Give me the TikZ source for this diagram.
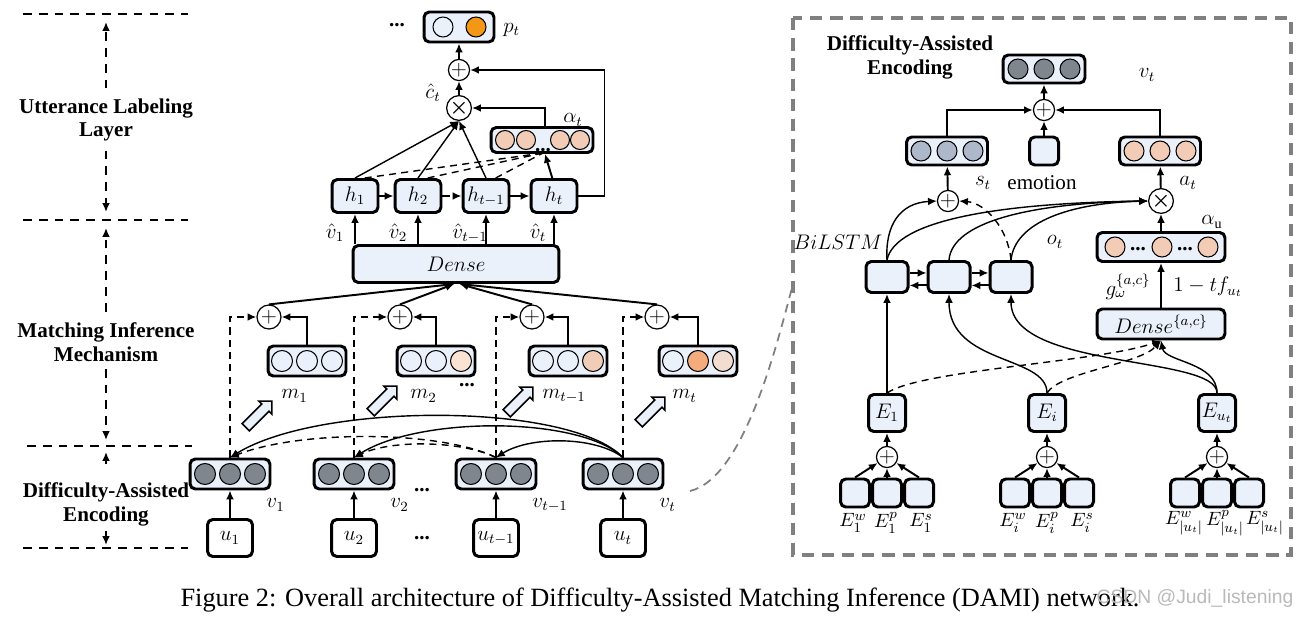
\documentclass[tikz,border=0pt]{standalone}
\usepackage{fontspec}
\usepackage{amsmath}
\setmainfont{Liberation Serif}
\setsansfont{Liberation Sans}
\usetikzlibrary{arrows.meta,shapes.arrows}
\definecolor{boxfill}{RGB}{235,241,250}
\definecolor{vgray}{RGB}{128,134,142}
\definecolor{sblue}{RGB}{173,185,202}
\definecolor{peach}{RGB}{242,204,182}
\definecolor{porange}{RGB}{244,150,22}
\definecolor{mpeach}{RGB}{251,227,212}
\definecolor{mtan}{RGB}{241,205,184}
\definecolor{morange}{RGB}{244,172,124}
\definecolor{mpale}{RGB}{243,220,208}
\definecolor{framegray}{RGB}{128,128,128}

\begin{document}
\begin{tikzpicture}[x=0.02cm, y=-0.02cm, >={Latex[length=5pt,width=4.4pt]},
  vec/.style={draw, rounded corners=3pt, line width=1.7pt, fill=boxfill, inner sep=1pt},
  dot/.style={circle, draw, line width=0.6pt, minimum size=0.42cm, inner sep=0pt},
  opc/.style={circle, draw, fill=white, line width=0.7pt, minimum size=0.4cm, inner sep=0pt},
  arr/.style={->, line width=1.1pt},
  fine/.style={->, line width=0.8pt},
  dsh/.style={dash pattern=on 4pt off 3pt},
  sect/.style={dash pattern=on 5pt off 4pt, line width=1pt},
  dots/.style={font=\bfseries, inner sep=0pt},
  fat/.style={single arrow, draw, fill=boxfill, line width=0.9pt, rotate=45, minimum height=0.74cm, minimum width=0.34cm, single arrow head extend=0.08cm, inner sep=2.5pt}]
\fontsize{12}{13.6}\selectfont
\useasboundingbox (0,0) rectangle (1305,618);

% section labels on the left
\foreach \y in {14,220,548} \draw[sect] (23,\y) -- (188,\y);
\draw[sect] (27,446) -- (192,446);
\node[align=center, font=\bfseries, inner sep=0pt] (lab1) at (106,120) {Utterance Labeling\\Layer};
\node[align=center, font=\bfseries, inner sep=0pt] (lab2) at (106,342) {Matching Inference\\Mechanism};
\node[align=center, font=\bfseries, inner sep=0pt] (lab3) at (106,504) {Difficulty-Assisted\\Encoding};
\draw[sect,->,shorten <=5.5pt] (lab1.north) -- (106,22);
\draw[sect,->,shorten <=5pt] (lab1.south) -- (106,212);
\draw[sect,->,shorten <=6pt] (lab2.north) -- (106,228);
\draw[sect,->,shorten <=4pt] (lab2.south) -- (106,440);
\draw[sect,->,shorten <=10pt] (lab3.north) -- (106,452);
\draw[sect,->,shorten <=3pt] (lab3.south) -- (106,545);

% utterance labeling layer
\node[vec, minimum width=1.4cm, minimum height=0.6cm] (pt) at (459,27) {};
\node[dot, fill=boxfill, minimum size=0.4cm] (pt1) at (443,27) {};
\node[dot, fill=porange, minimum size=0.4cm] (pt2) at (476,27) {};
\node[anchor=west] (ptl) at (496,30) {$p_t$};
\node[dots] (ptd) at (397,25) {...};
\node[opc] (add) at (459,70) {$+$};
\node[opc] (mul) at (459,108) {$\boldsymbol{\times}$};
\node (ctl) at (433,93) {$\hat{c}_t$};
\node[vec, minimum width=2.04cm, minimum height=0.5cm] (al) at (542,140) {};
\foreach \x [count=\j] in {505,526,560,580} \node[dot, fill=peach, minimum size=0.38cm] (al\j) at (\x,140) {};
\node[dots] (ald) at (543,150) {...};
\node (all) at (573,120) {$\alpha_t$};
\foreach \x/\lab [count=\i] in {355/h_1,418/h_2,486/h_{t-1},554/h_t}
  \node[vec, minimum width=0.92cm, minimum height=0.66cm] (h\i) at (\x,196) {$\lab$};
\node[vec, minimum width=4.12cm, minimum height=0.74cm] (dense) at (456,264) {$Dense$};
\foreach \x/\lab [count=\i] in {335/\hat{v}_1,398/\hat{v}_2,470/\hat{v}_{t-1},538/\hat{v}_t}
  \node (vh\i) at (\x,233) {$\lab$};

\draw[arr] (add) -- (pt);
\draw[arr] (mul) -- (add);
\draw[arr] (h4.east) -- ++(26,0) |- (add.east);
\draw[arr] ([xshift=1.7pt]al.north) |- (mul.east);
\foreach \i in {1,2,3} \draw[fine] (h\i.north) -- (mul.south);
\coordinate (alb) at (543,153);
\foreach \i in {1,2,3} \draw[dsh, line width=0.8pt] ([xshift=5.5pt]h\i.north) -- (alb);
\draw[arr] ([xshift=-1pt]h4.north) -- ([xshift=1.7pt]al.south);
\draw[arr] (h1) -- (h2);
\draw[arr, dsh] (h2) -- (h3);
\draw[arr] (h3) -- (h4);
\foreach \i in {1,...,4} \draw[arr] (dense.north -| h\i) -- (h\i.south);

% matching inference mechanism
\foreach \x [count=\i] in {269,400,532,657} \node[opc, minimum size=0.48cm] (p\i) at (\x,317) {\large$+$};
\foreach \x/\ca/\cb/\cc/\lab [count=\i] in {307/boxfill/boxfill/boxfill/m_1, 436/boxfill/boxfill/mpeach/m_2, 568/boxfill/boxfill/mtan/m_{t-1}, 698/boxfill/morange/mpale/m_t}
{
  \node[vec, minimum width=1.56cm, minimum height=0.6cm] (m\i) at (\x,361) {};
  \node[dot, fill=\ca] (m\i c1) at (\x-25,361) {};
  \node[dot, fill=\cb] (m\i c2) at (\x,361) {};
  \node[dot, fill=\cc] (m\i c3) at (\x+25,361) {};
  \node[anchor=west] (ml\i) at (\x-33,396) {$\lab$};
}
\node[dots] (md) at (467,385) {...};
\foreach \x/\y [count=\i] in {257/416,382/401,518/402,650/412} \node[fat] (f\i) at (\x,\y) {};
\foreach \i in {1,2} \draw[arr] (p\i.north) -- ([xshift=-1pt]dense.south);
\foreach \i in {3,4} \draw[arr] (p\i.north) -- ([xshift=2pt]dense.south);

% difficulty-assisted encoding
\foreach \x/\lab/\ulab [count=\i] in {230/v_1/u_1,354/v_2/u_2,496/v_{t-1}/u_{t-1},623/v_t/u_t}
{
  \node[vec, minimum width=1.6cm, minimum height=0.6cm] (v\i) at (\x,474) {};
  \foreach \d [count=\j] in {-25,0,25} \node[dot, fill=vgray] (v\i c\j) at (\x+\d,474) {};
  \node[anchor=west] (vl\i) at (\x+29,505) {$\lab$};
  \node[vec, fill=white, minimum width=0.9cm, minimum height=0.74cm] (u\i) at (\x,538) {$\ulab$};
  \draw[arr] (u\i) -- (v\i);
}
\node[dots] (vd) at (422,490) {...};
\node[dots] (ud) at (422,538) {...};
\foreach \i in {1,...,4} \draw[arr] (m\i.north) |- (p\i.east);
\foreach \i in {1,...,4} \draw[arr, dsh] (v\i.north) |- (p\i.west);
\draw[fine] (v4.north) .. controls (570,402) and (320,402) .. (v1.north);
\draw[fine] (v4.north) .. controls (580,416) and (420,416) .. (v2.north);
\draw[fine] (v4.north) .. controls (595,436) and (530,436) .. (v3.north);
\draw[fine, dsh] (v3.north) .. controls (440,430) and (300,430) .. (v1.north);
\draw[fine, dsh] (v3.north) .. controls (460,440) and (390,440) .. (v2.north);
\coordinate (link) at (690,491);
\coordinate (frm) at (793,284);
\draw[framegray, line width=1pt, dash pattern=on 5pt off 3.5pt] (link) .. controls (745,478) and (778,340) .. (frm);

% zoomed encoder
\draw[framegray, line width=2pt, dash pattern=on 7pt off 4.5pt] (793,18) rectangle (1291,555);
\node[align=center, font=\bfseries, inner sep=0pt] (ttl) at (910,57) {Difficulty-Assisted\\Encoding};
\node[vec, minimum width=1.64cm, minimum height=0.56cm] (vr) at (1044,69) {};
\foreach \d [count=\j] in {-26,0,26} \node[dot, fill=vgray, minimum size=0.4cm] (vr\j) at (1044+\d,69) {};
\node (vrl) at (1147,75) {$v_t$};
\node[opc] (addr) at (1044,110) {$+$};
\node[vec, minimum width=1.62cm, minimum height=0.56cm] (st) at (947,151) {};
\foreach \d [count=\j] in {-26,0,26} \node[dot, fill=sblue, minimum size=0.4cm] (st\j) at (947+\d,151) {};
\node[vec, minimum width=0.58cm, minimum height=0.56cm] (emo) at (1044,151) {};
\node[vec, minimum width=1.62cm, minimum height=0.56cm] (atv) at (1160,151) {};
\foreach \d [count=\j] in {-26,0,26} \node[dot, fill=peach, minimum size=0.4cm] (atv\j) at (1160+\d,151) {};
\node (stl) at (983,183) {$s_t$};
\node (emol) at (1042,183) {emotion};
\node (atl) at (1188,183) {$a_t$};
\node[opc, minimum size=0.38cm] (adds) at (948,201) {$+$};
\node[opc, minimum size=0.38cm] (mula) at (1161,201) {$\boldsymbol{\times}$};
\node (aul) at (1212,222) {$\alpha_{\mathrm{u}}$};
\node[vec, minimum width=2.56cm, minimum height=0.58cm] (au) at (1161,247) {};
\foreach \x [count=\j] in {1115,1162,1208} \node[dot, fill=peach, minimum size=0.4cm] (au\j) at (\x,247) {};
\foreach \x [count=\j] in {1138,1185} \node[dots] (aud\j) at (\x,249) {...};
\node[vec, minimum width=2.56cm, minimum height=0.6cm] (den2) at (1161,324) {$Dense^{\{a,c\}}$};
\node (gl) at (1128,287) {$g_\omega^{\{a,c\}}$};
\node (tfl) at (1208,287) {$1-tf_{u_t}$};
\node (bil) at (838,242) {$BiLSTM$};
\node (otl) at (1055,242) {$o_t$};
\foreach \x [count=\i] in {887,949,1011} \node[vec, minimum width=0.84cm, minimum height=0.62cm] (ls\i) at (\x,277) {};
\foreach \i/\j in {1/2,2/3} {
  \draw[arr] ([yshift=2.3pt]ls\i.east) -- ([yshift=2.3pt]ls\j.west);
  \draw[arr] ([yshift=-4.8pt]ls\j.west) -- ([yshift=-4.8pt]ls\i.east);
}
\foreach \x/\lab [count=\i] in {887/E_1,1047/E_i,1217/E_{u_t}}
{
  \node[vec, minimum width=0.74cm, minimum height=0.74cm] (e\i) at (\x,413) {$\lab$};
  \node[opc] (ep\i) at (\x,457) {$+$};
  \foreach \d [count=\j] in {-32,0,32} {
    \node[vec, minimum width=0.58cm, minimum height=0.56cm] (eb\i\j) at (\x+\d,493) {};
    \draw[arr] (eb\i\j.north) -- (ep\i);
  }
  \draw[arr] (ep\i) -- (e\i);
}
\foreach \x/\lab [count=\j] in {853/E_1^w,886/E_1^p,921/E_1^s,1013/E_i^w,1047/E_i^p,1082/E_i^s,1184/E_{|u_t|}^w,1225/E_{|u_t|}^p,1265/E_{|u_t|}^s}
  \node[inner sep=0pt, font=\fontsize{11}{12}\selectfont] (el\j) at (\x,523) {$\lab$};

\draw[arr] (addr) -- (vr);
\draw[arr] (st.north) |- (addr.west);
\draw[arr] (atv.north) |- (addr.east);
\draw[arr] (emo) -- (addr);
\draw[arr] (adds) -- (st);
\draw[arr] (mula) -- (atv);
\draw[arr] (au) -- (mula);
\draw[arr] (den2) -- (au);
\draw[arr] (e1) -- (ls1);
\draw[fine] (e2.north) .. controls (1047,355) and (949,365) .. (ls2.south);
\draw[fine] (e3.north) .. controls (1217,355) and (1011,370) .. (ls3.south);
\draw[fine] (e3.north) .. controls (1217,362) and (1165,362) .. (den2.south);
\draw[fine, dsh] (e1.north) .. controls (920,370) and (1100,362) .. (den2.south);
\draw[fine, dsh] (e2.north) .. controls (1060,372) and (1140,364) .. (den2.south);
\draw[fine] (ls1.north) .. controls (885,225) and (900,203) .. (adds.west);
\draw[fine] (ls1.north) .. controls (895,220) and (1000,203) .. (mula.west);
\draw[fine] (ls2.north) .. controls (952,222) and (1030,203) .. (mula.west);
\draw[fine] (ls3.north) .. controls (1015,222) and (1070,203) .. (mula.west);
\draw[fine, dsh] (ls3.north) .. controls (1008,228) and (985,203) .. (adds.east);

% caption
\node (cap) at (660,600) {\fontsize{15}{17}\selectfont Figure 2: Overall architecture of Difficulty-Assisted Matching Inference (DAMI) network.};
\node[text=gray!55, font=\sffamily\fontsize{11}{13}\selectfont] (wm) at (1195,598) {CSDN @Judi\_listening};
\end{tikzpicture}
\end{document}
